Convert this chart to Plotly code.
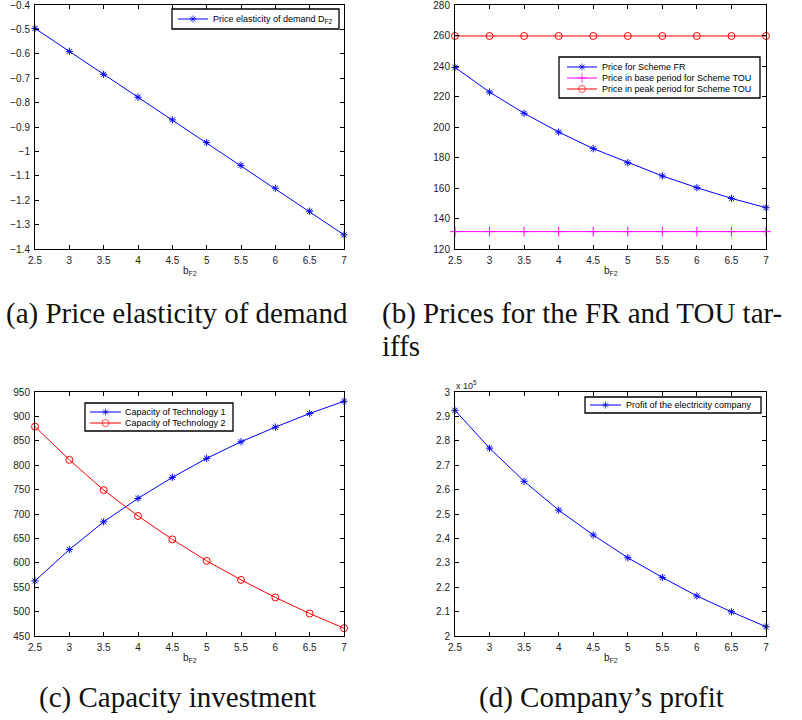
import plotly.graph_objects as go

b_F2 = [2.5, 3.0, 3.5, 4.0, 4.5, 5.0, 5.5, 6.0, 6.5, 7.0]
elasticity = [-0.496, -0.590, -0.684, -0.778, -0.871, -0.964, -1.057, -1.151, -1.245, -1.342]
price_fr = [239.1, 222.9, 209.0, 196.7, 185.8, 176.6, 167.9, 160.2, 153.2, 147.1]
price_base_tou = [131.4] * 10
price_peak_tou = [259.7] * 10
cap_tech1 = [563, 627, 684, 732, 775, 814, 848, 878, 906, 931]
cap_tech2 = [879, 811, 749, 696, 648, 604, 565, 529, 496, 466]
profit = [292500, 277000, 263400, 251600, 241400, 232100, 224000, 216400, 209900, 203800]

x_ticks = [2.5, 3, 3.5, 4, 4.5, 5, 5.5, 6, 6.5, 7]
x_ticktext = ["2.5", "3", "3.5", "4", "4.5", "5", "5.5", "6", "6.5", "7"]
a_ticks = [-0.4, -0.5, -0.6, -0.7, -0.8, -0.9, -1.0, -1.1, -1.2, -1.3, -1.4]
a_ticktext = ["\u22120.4", "\u22120.5", "\u22120.6", "\u22120.7", "\u22120.8", "\u22120.9", "\u22121", "\u22121.1", "\u22121.2", "\u22121.3", "\u22121.4"]
b_ticks = [120, 140, 160, 180, 200, 220, 240, 260, 280]
c_ticks = [450, 500, 550, 600, 650, 700, 750, 800, 850, 900, 950]
d_ticks = [200000, 210000, 220000, 230000, 240000, 250000, 260000, 270000, 280000, 290000, 300000]
d_ticktext = ["2", "2.1", "2.2", "2.3", "2.4", "2.5", "2.6", "2.7", "2.8", "2.9", "3"]

W, H = 802, 720
BLUE = "#0000ff"
RED = "#ff0000"
MAG = "#ff00ff"
SANS = "Liberation Sans, Arial, sans-serif"
TICKFONT = dict(family=SANS, size=10, color="#222")
LEGFONT = dict(family=SANS, size=9, color="black")

fig = go.Figure()

def px_x(p):
    return p / W

def px_y(p):
    return 1 - p / H

dom = {
    "a": ([px_x(35), px_x(344)], [px_y(249), px_y(5)]),
    "b": ([px_x(455), px_x(766)], [px_y(249), px_y(5)]),
    "c": ([px_x(35), px_x(344)], [px_y(636), px_y(392)]),
    "d": ([px_x(455), px_x(766)], [px_y(636), px_y(392)]),
}

axis_ids = {"a": ("x", "y", ""), "b": ("x2", "y2", "2"), "c": ("x3", "y3", "3"), "d": ("x4", "y4", "4")}

SYMBOLS = {"star": ("asterisk-open", 6), "plus": ("cross-thin-open", 7), "circle": ("circle-open", 7)}

def add(panel, y, name, color, sym):
    xa, ya, _ = axis_ids[panel]
    symbol, msize = SYMBOLS[sym]
    fig.add_trace(go.Scatter(
        x=b_F2, y=y, name=name, mode="lines+markers",
        line=dict(color=color, width=1),
        marker=dict(symbol=symbol, size=msize, color=color, line=dict(color=color, width=1)),
        xaxis=xa, yaxis=ya, cliponaxis=False, showlegend=False,
    ))

add("a", elasticity, "Price elasticity of demand D<sub>F2</sub>", BLUE, "star")
add("b", price_fr, "Price for Scheme FR", BLUE, "star")
add("b", price_base_tou, "Price in base period for Scheme TOU", MAG, "plus")
add("b", price_peak_tou, "Price in peak period for Scheme TOU", RED, "circle")
add("c", cap_tech1, "Capacity of Technology 1", BLUE, "star")
add("c", cap_tech2, "Capacity of Technology 2", RED, "circle")
add("d", profit, "Profit of the electricity company", BLUE, "star")

ranges = {
    "a": ([-1.4, -0.4], a_ticks, a_ticktext),
    "b": ([120, 280], b_ticks, [str(v) for v in b_ticks]),
    "c": ([450, 950], c_ticks, [str(v) for v in c_ticks]),
    "d": ([200000, 300000], d_ticks, d_ticktext),
}

layout = {}
for p, (xa, ya, suf) in axis_ids.items():
    xd, yd = dom[p]
    yr, yt, ytt = ranges[p]
    common = dict(showline=True, linecolor="black", linewidth=1, mirror="allticks",
                  ticks="inside", ticklen=4, tickcolor="black", showgrid=False,
                  zeroline=False, tickfont=TICKFONT, automargin=False,
                  ticklabeloverflow="allow", ticklabelstandoff=2, fixedrange=True)
    layout["xaxis" + suf] = dict(domain=xd, range=[2.5, 7], tickvals=x_ticks, ticktext=x_ticktext,
                                 anchor=ya, **common)
    layout["yaxis" + suf] = dict(domain=yd, range=yr, tickvals=yt, ticktext=ytt, anchor=xa, **common)

# overlay pixel axis for legend glyphs
layout["xaxis5"] = dict(domain=[0, 1], range=[0, W], visible=False, fixedrange=True, anchor="y5")
layout["yaxis5"] = dict(domain=[0, 1], range=[H, 0], visible=False, fixedrange=True, anchor="x5")

# manual MATLAB-style legends: (box, line x0, line x1, text x, rows)
legends = [
    ((172, 9, 339, 29), 178, 208, 211, [(19, "Price elasticity of demand D<sub>F2</sub>", BLUE, "star")]),
    ((559, 57, 760, 98), 567, 597, 600, [(67, "Price for Scheme FR", BLUE, "star"),
                                         (78, "Price in base period for Scheme TOU", MAG, "plus"),
                                         (89, "Price in peak period for Scheme TOU", RED, "circle")]),
    ((85, 403, 233, 431), 90, 121, 123, [(412, "Capacity of Technology 1", BLUE, "star"),
                                         (423, "Capacity of Technology 2", RED, "circle")]),
    ((585, 397, 761, 413), 590, 621, 624, [(405, "Profit of the electricity company", BLUE, "star")]),
]

shapes = []
annotations = []
for (bx0, by0, bx1, by1), lx0, lx1, tx, rows in legends:
    shapes.append(dict(type="rect", xref="paper", yref="paper", x0=px_x(bx0), x1=px_x(bx1),
                       y0=px_y(by0), y1=px_y(by1), line=dict(color="black", width=1.3),
                       fillcolor="rgba(0,0,0,0)", layer="above"))
    for ry, label, color, sym in rows:
        shapes.append(dict(type="line", xref="paper", yref="paper", x0=px_x(lx0), x1=px_x(lx1),
                           y0=px_y(ry), y1=px_y(ry), line=dict(color=color, width=1), layer="above"))
        annotations.append(dict(text=label, x=px_x(tx), y=px_y(ry), xref="paper", yref="paper",
                                xanchor="left", yanchor="middle", showarrow=False, font=LEGFONT))

fig.add_trace(go.Scatter(
    x=[(l[1] + l[2]) / 2 for l in legends for _ in l[4]],
    y=[r[0] for l in legends for r in l[4]],
    mode="markers", xaxis="x5", yaxis="y5", showlegend=False, hoverinfo="skip", cliponaxis=False,
    marker=dict(symbol=[SYMBOLS[r[3]][0] for l in legends for r in l[4]],
                size=[SYMBOLS[r[3]][1] for l in legends for r in l[4]],
                color=[r[2] for l in legends for r in l[4]],
                line=dict(color=[r[2] for l in legends for r in l[4]], width=1)),
))

CAP = dict(family="Liberation Serif, Times New Roman, serif", size=29, color="#111")

def ann(text, x, y, font, xanchor="left"):
    return dict(text=text, x=px_x(x), y=px_y(y), xref="paper", yref="paper",
                xanchor=xanchor, yanchor="middle", showarrow=False, font=font)

annotations += [
    ann("x 10<sup>5</sup>", 454, 385, dict(family=SANS, size=9, color="#222")),
    ann("b<sub>F2</sub>", 189.5, 271, TICKFONT, "center"),
    ann("b<sub>F2</sub>", 610.5, 271, TICKFONT, "center"),
    ann("b<sub>F2</sub>", 189.5, 658, TICKFONT, "center"),
    ann("b<sub>F2</sub>", 610.5, 658, TICKFONT, "center"),
    ann("(a) Price elasticity of demand", 4, 313, CAP),
    ann("(b) Prices for the FR and TOU tar-", 380, 313, CAP),
    ann("iffs", 380, 346, CAP),
    ann("(c) Capacity investment", 37, 697, CAP),
    ann("(d) Company\u2019s profit", 477, 697, CAP),
]

fig.update_layout(
    width=W, height=H, margin=dict(l=0, r=0, t=0, b=0, autoexpand=False),
    paper_bgcolor="white", plot_bgcolor="rgba(0,0,0,0)",
    showlegend=False, annotations=annotations, shapes=shapes, **layout,
)

fig.write_html("out.html", config={"displayModeBar": False},
               post_script="document.body.style.margin='0px';document.body.style.overflow='hidden';")
